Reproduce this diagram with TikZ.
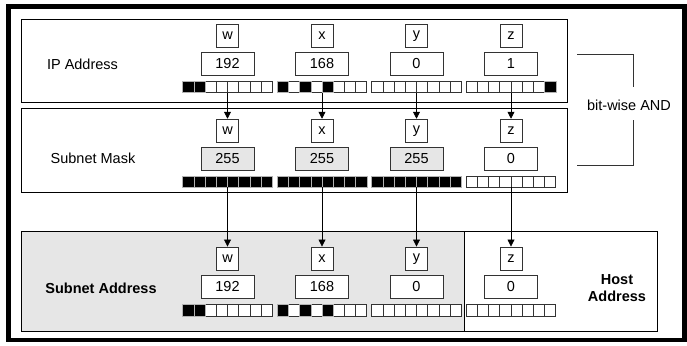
\documentclass[tikz,border=0pt]{standalone}
\usepackage{fontspec}
\setmainfont{Liberation Sans}
\usetikzlibrary{arrows.meta}
\definecolor{shade}{HTML}{E6E6E6}
\definecolor{edge}{HTML}{333333}
\tikzset{
  txt/.style={font=\fontsize{14.5}{17.5}\selectfont, inner sep=0pt},
  btxt/.style={font=\fontsize{14.5}{17.5}\selectfont\bfseries, inner sep=0pt, align=center},
  sect/.style={draw=black, line width=0.9pt},
  lbox/.style={txt, draw=edge, line width=0.9pt, fill=white, minimum width=22pt, minimum height=23pt},
  vbox/.style={txt, draw=edge, line width=0.9pt, fill=white, minimum width=53pt, minimum height=22.5pt},
  gbox/.style={vbox, fill=shade},
  bitnode/.style={minimum width=89.6pt, minimum height=11.5pt, inner sep=0pt, outer sep=0pt},
  cell/.style={draw=edge, line width=0.7pt, fill=white},
  oncell/.style={draw=gray!60, line width=0.6pt, fill=black},
  arr/.style={-{Triangle[length=7pt,width=7pt]}, line width=0.8pt, shorten >=0.3pt},
}
\newcommand\bitsrow[4]{% name, cx, cy, pattern
  \node[bitnode] (#1) at (#2,#3) {};
  \foreach \b [count=\i from 0] in {#4} {
    \draw[cell] ([xshift={\i*11.2pt}]#1.north west) rectangle ++(11.2,11.5);
  }
  \foreach \b [count=\i from 0] in {#4} {
    \ifnum\b=1
      \draw[oncell] ([xshift={\i*11.2pt}]#1.north west) rectangle ++(11.2,11.5);
    \fi
  }
}
\begin{document}
\begin{tikzpicture}[x=1pt,y=-1pt]
\useasboundingbox (0,0) rectangle (687,345);
% outer frame
\draw[line width=4.6pt] (8.5,6.6) rectangle (684.2,340);
% sections
\draw[sect] (21.5,19.5) rectangle (567.5,102.7);
\draw[sect] (21.5,108.3) rectangle (567.5,192);
\draw[sect, fill=shade] (21.5,231) rectangle (464,331.5);
\draw[sect, fill=white] (464,231) rectangle (657,331.5);
% labels
\node[txt] (lip) at (82.5,64) {IP Address};
\node[txt] (lmask) at (93,158.5) {Subnet Mask};
\node[btxt] (lsub) at (101,288) {Subnet Address};
\node[btxt] (lhost) at (617,288) {Host\\Address};
\node[txt] (land) at (629,105) {bit-wise AND};
% bracket
\draw[line width=0.9pt, edge] (577,54) -- (633,54) -- (633,87);
\draw[line width=0.9pt, edge] (633,120) -- (633,165) -- (577,165);
% IP row
\node[lbox] (ipl1) at (227.5,35.8) {w};
\node[lbox] (ipl2) at (322,35.8) {x};
\node[lbox] (ipl3) at (416.5,35.8) {y};
\node[lbox] (ipl4) at (511,35.8) {z};
\node[vbox] (ipv1) at (227.5,64) {192};
\node[vbox] (ipv2) at (322,64) {168};
\node[vbox] (ipv3) at (416.5,64) {0};
\node[vbox] (ipv4) at (511,64) {1};
\bitsrow{ipb1}{227.5}{86.8}{1,1,0,0,0,0,0,0}
\bitsrow{ipb2}{322}{86.8}{1,0,1,0,1,0,0,0}
\bitsrow{ipb3}{416.5}{86.8}{0,0,0,0,0,0,0,0}
\bitsrow{ipb4}{511}{86.8}{0,0,0,0,0,0,0,1}
% mask row
\node[lbox] (mkl1) at (227.5,131) {w};
\node[lbox] (mkl2) at (322,131) {x};
\node[lbox] (mkl3) at (416.5,131) {y};
\node[lbox] (mkl4) at (511,131) {z};
\node[gbox] (mkv1) at (227.5,158.8) {255};
\node[gbox] (mkv2) at (322,158.8) {255};
\node[gbox] (mkv3) at (416.5,158.8) {255};
\node[vbox] (mkv4) at (511,158.8) {0};
\bitsrow{mkb1}{227.5}{181.7}{1,1,1,1,1,1,1,1}
\bitsrow{mkb2}{322}{181.7}{1,1,1,1,1,1,1,1}
\bitsrow{mkb3}{416.5}{181.7}{1,1,1,1,1,1,1,1}
\bitsrow{mkb4}{511}{181.7}{0,0,0,0,0,0,0,0}
% result row
\node[lbox] (rsl1) at (227.5,258.8) {w};
\node[lbox] (rsl2) at (322,258.8) {x};
\node[lbox] (rsl3) at (416.5,258.8) {y};
\node[lbox] (rsl4) at (511,258.8) {z};
\node[vbox] (rsv1) at (227.5,287) {192};
\node[vbox] (rsv2) at (322,287) {168};
\node[vbox] (rsv3) at (416.5,287) {0};
\node[vbox] (rsv4) at (511,287) {0};
\bitsrow{rsb1}{227.5}{310.5}{1,1,0,0,0,0,0,0}
\bitsrow{rsb2}{322}{310.5}{1,0,1,0,1,0,0,0}
\bitsrow{rsb3}{416.5}{310.5}{0,0,0,0,0,0,0,0}
\bitsrow{rsb4}{511}{310.5}{0,0,0,0,0,0,0,0}
% arrows
\foreach \k in {1,2,3,4} {
  \draw[arr] (ipb\k.south) -- (mkl\k.north);
  \draw[arr] (mkb\k.south) -- (rsl\k.north);
}
\end{tikzpicture}
\end{document}
